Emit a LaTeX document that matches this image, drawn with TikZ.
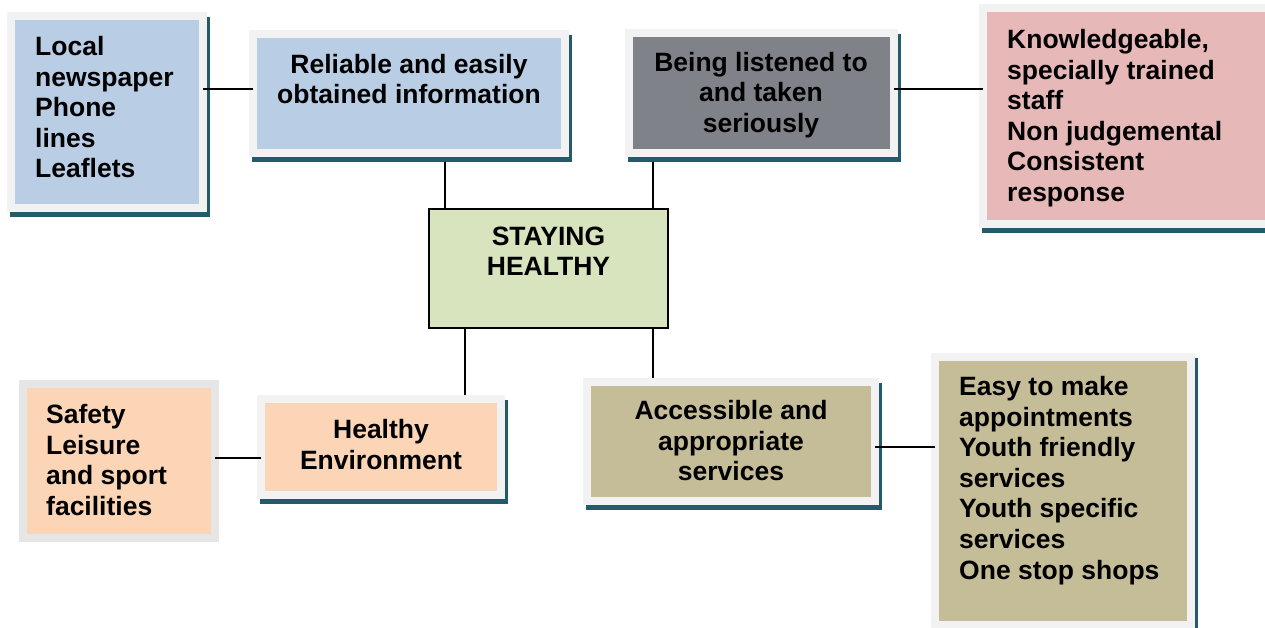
\documentclass[tikz,border=0pt]{standalone}
\usepackage{fontspec}
\setmainfont{Liberation Sans}
\usetikzlibrary{backgrounds}
\definecolor{cframe}{HTML}{F2F2F2}
\definecolor{cframeb}{HTML}{E6E6E6}
\definecolor{cshadow}{HTML}{245B6A}
\definecolor{cblue}{HTML}{B9CDE5}
\definecolor{cgray}{HTML}{7F8288}
\definecolor{cpink}{HTML}{E6B8B7}
\definecolor{cgreen}{HTML}{D7E4BD}
\definecolor{cpeach}{HTML}{FBD5B5}
\definecolor{ckhaki}{HTML}{C4BD97}
\begin{document}
\begin{tikzpicture}[x=1pt,y=-1pt,
  frbox/.style={draw=cframe, line width=8pt, inner sep=0pt, outer sep=0pt, anchor=north west},
  shad/.style={preaction={draw=cshadow, fill=cshadow, line width=8pt, transform canvas={xshift=3pt,yshift=-5pt}}},
  txt/.style={font=\bfseries\fontsize{26.5}{30.6}\selectfont, inner sep=0pt, text=black},
  conn/.style={line width=1.7pt, draw=black}]
\useasboundingbox (0,0) rectangle (1265,628);
\clip (0,0) rectangle (1265,628);
% boxes
\node[frbox, shad, fill=cblue, minimum width=192, minimum height=192] (local) at (11,16) {};
\node[frbox, shad, fill=cblue, minimum width=312, minimum height=119] (reliable) at (253,34) {};
\node[frbox, shad, fill=cgray, minimum width=265, minimum height=120] (listen) at (629,33) {};
\node[frbox, shad, fill=cpink, minimum width=310, minimum height=216] (knowl) at (983,8) {};
\node[draw=black, line width=2pt, inner sep=0pt, outer sep=0pt, anchor=north west, fill=cgreen, minimum width=239, minimum height=119] (stay) at (429,209) {};
\node[frbox, draw=cframeb, fill=cpeach, minimum width=192, minimum height=154] (safety) at (23,384) {};
\node[frbox, shad, fill=cpeach, minimum width=240, minimum height=96] (healthy) at (261,399) {};
\node[frbox, shad, fill=ckhaki, minimum width=288, minimum height=119] (access) at (587,382) {};
\node[frbox, shad, fill=ckhaki, minimum width=256, minimum height=268] (easy) at (935,357) {};
% texts
\node[txt, anchor=north west, align=left] (localtxt) at (35,36) {Local\\newspaper\\Phone\\lines\\Leaflets};
\node[txt, anchor=north, align=center] (reliabletxt) at (409,54) {Reliable and easily\\obtained information};
\node[txt, anchor=north, align=center] (listentxt) at (761,52) {Being listened to\\and taken\\seriously};
\node[txt, anchor=north west, align=left] (knowltxt) at (1007,29) {Knowledgeable,\\specially trained\\staff\\Non judgemental\\Consistent\\response};
\node[txt, anchor=north, align=center] (staytxt) at (548.5,226.5) {STAYING\\HEALTHY};
\node[txt, anchor=north west, align=left] (safetytxt) at (46,404) {Safety\\Leisure\\and sport\\facilities};
\node[txt, anchor=north, align=center] (healthytxt) at (381,419) {Healthy\\Environment};
\node[txt, anchor=north, align=center] (accesstxt) at (731,400) {Accessible and\\appropriate\\services};
\node[txt, anchor=north west, align=left] (easytxt) at (959,376) {Easy to make\\appointments\\Youth friendly\\services\\Youth specific\\services\\One stop shops};
% horizontal connectors
\draw[conn] (local.east |- 0,89) -- (reliable.west |- 0,89);
\draw[conn] (listen.east |- 0,89) -- (knowl.west |- 0,89);
\draw[conn] (safety.east |- 0,458) -- (healthy.west |- 0,458);
\draw[conn] (access.east |- 0,447) -- (easy.west |- 0,447);
% vertical connectors
\begin{pgfonlayer}{background}
\draw[conn] (reliable.south -| 445,0) -- (stay.north -| 445,0);
\draw[conn] (listen.south -| 653,0) -- (stay.north -| 653,0);
\draw[conn] (stay.south -| 465,0) -- (healthy.north -| 465,0);
\draw[conn] (stay.south -| 653,0) -- (access.north -| 653,0);
\end{pgfonlayer}
\end{tikzpicture}
\end{document}
